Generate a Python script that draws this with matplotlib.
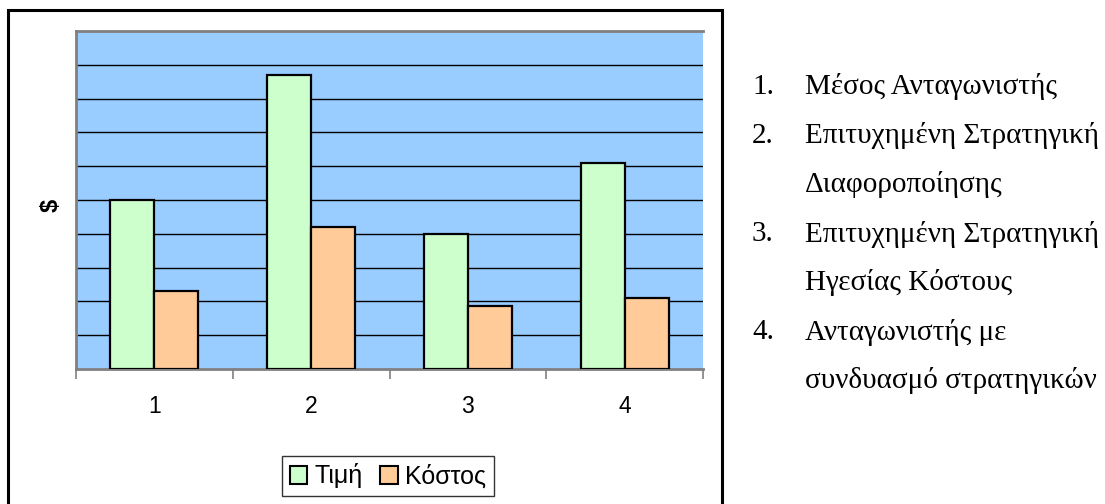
import numpy as np
import matplotlib.pyplot as plt
from matplotlib.patches import Rectangle, Patch

categories = ['1', '2', '3', '4']
timi = [5.0, 8.7, 4.0, 6.1]
kostos = [2.3, 4.2, 1.85, 2.1]
series_names = ['Τιμή', 'Κόστος']
notes = [
    ('1.', 'Μέσος Ανταγωνιστής'),
    ('2.', 'Επιτυχημένη Στρατηγική'),
    ('', 'Διαφοροποίησης'),
    ('3.', 'Επιτυχημένη Στρατηγική'),
    ('', 'Ηγεσίας Κόστους'),
    ('4.', 'Ανταγωνιστής με'),
    ('', 'συνδυασμό στρατηγικών'),
]

green = '#CCFFCC'
orange = '#FFCC99'
grey = '#808080'

fig = plt.figure(figsize=(11.05, 5.04), dpi=100)
W, H = 1105, 504

# outer chart frame
fig.patches.append(Rectangle((8 / W, -0.05), (722 - 8) / W, 1.05 - 10 / H,
                             transform=fig.transFigure, fill=False,
                             edgecolor='black', linewidth=2.2))

ax = fig.add_axes([76 / W, 1 - 369 / H, (703 - 76) / W, (369 - 31) / H])
ax.set_facecolor('#99CCFF')

x = np.arange(len(categories))
bw = 0.28
ax.bar(x - bw / 2, timi, bw, color=green, edgecolor='black', linewidth=1.6, zorder=3)
ax.bar(x + bw / 2, kostos, bw, color=orange, edgecolor='black', linewidth=1.6, zorder=3)

ax.set_xlim(-0.5, len(categories) - 0.5)
ax.set_ylim(0, 10)
for g in range(1, 10):
    ax.axhline(g, color='black', linewidth=1.0, zorder=1)

ax.set_yticks([])
ax.set_xticks(np.arange(len(categories) + 1) - 0.5)
ax.set_xticklabels([])
ax.tick_params(axis='x', which='major', length=7, width=1.2, color=grey, direction='out')
ax.set_xticks(x, minor=True)
ax.set_xticklabels(categories, minor=True, fontsize=16.5, family='Liberation Sans')
ax.tick_params(axis='x', which='minor', length=0, pad=19)

for s in ax.spines.values():
    s.set_color(grey)
    s.set_linewidth(2)
ax.spines['right'].set_visible(False)

fig.text(51 / W, 1 - 205 / H, '$', rotation=90, fontsize=17, fontweight='bold',
         family='Liberation Sans', ha='center', va='center')

handles = [Patch(facecolor=green, edgecolor='black', linewidth=1.5),
           Patch(facecolor=orange, edgecolor='black', linewidth=1.5)]
leg = fig.legend(handles, series_names, loc='center', bbox_to_anchor=(388 / W, 1 - 476 / H),
                 prop={'family': 'Liberation Sans', 'size': 18}, frameon=True,
                 fancybox=False, ncol=2, handlelength=0.7, handleheight=0.7,
                 handletextpad=0.3, columnspacing=0.7, borderpad=0.3)
leg.get_frame().set_edgecolor('black')
leg.get_frame().set_linewidth(1.0)

y0 = 87
for i, (num, txt) in enumerate(notes):
    yy = 1 - (y0 + i * 49) / H
    if num:
        fig.text(752 / W, yy, num, fontsize=21, family='Liberation Serif', va='center')
    fig.text(805 / W, yy, txt, fontsize=21, family='Liberation Serif', va='center')

fig.savefig('out.png', dpi=100)
